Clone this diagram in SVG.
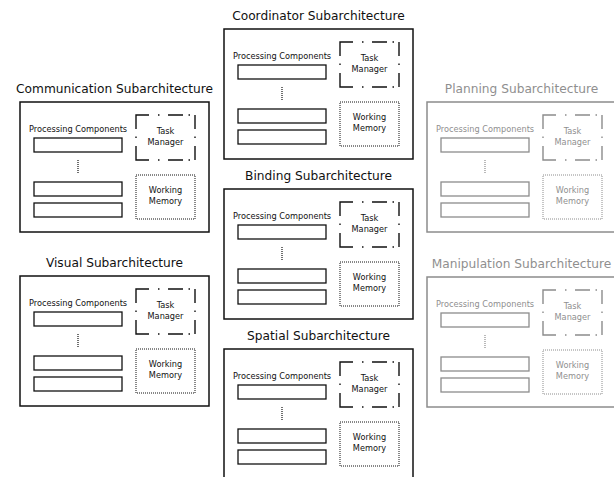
<svg xmlns="http://www.w3.org/2000/svg" xmlns:xlink="http://www.w3.org/1999/xlink" width="614" height="477" viewBox="0 0 614 477">
  <style>
    .node { stroke: #111; fill: none; }
    .node text { stroke: none; fill: #111; font-family: "DejaVu Sans", "Liberation Sans", sans-serif; }
    .muted { stroke: #8c8c8c; }
    .muted text { fill: #8f8f8f; }
    .title { font-size: 12.2px; text-anchor: middle; }
    .label { font-size: 8.2px; }
    .mid { text-anchor: middle; }
    .outer { stroke-width: 1.5; }
    .slot { stroke-width: 1.3; }
    .ellipsis { stroke-width: 1.2; stroke-dasharray: 1 1; }
    .tm { stroke-width: 1.4; }
    .wm { stroke-width: 1; stroke-dasharray: 1 1; }
  </style>
  <defs>
    <!-- dash-dot frame of the task manager, 59 x 45 -->
    <path id="tmFrame" class="tm" d="M0,14 V0 H13 M22,0 H23.5 M32,0 H47 M52.5,0 H54 M59,0 V14 M59,21.5 V23 M59,31 V45 M54,45 H52.5 M47,45 H32 M23.5,45 H22 M13,45 H0 V31 M0,23 V21.5"/>
    <!-- box body shared by every subarchitecture -->
    <g id="body">
      <rect class="outer" x="0" y="0" width="189" height="130"/>
      <rect class="slot" x="14" y="36" width="88" height="14"/>
      <line class="ellipsis" x1="58" y1="58" x2="58" y2="71"/>
      <rect class="slot" x="14" y="80" width="88" height="14"/>
      <rect class="slot" x="14" y="101" width="88" height="14"/>
      <use xlink:href="#tmFrame" x="116" y="13"/>
      <rect class="wm" x="116" y="73" width="59" height="44"/>
    </g>
  </defs>

  <g id="communication" class="node">
    <text class="title" x="114.5" y="93">Communication Subarchitecture</text>
    <g transform="translate(20,102)">
      <use xlink:href="#body"/>
      <text class="label" x="9" y="30">Processing Components</text>
      <text class="label mid" x="145.5" y="32">Task</text>
      <text class="label mid" x="145.5" y="43">Manager</text>
      <text class="label mid" x="145.5" y="91">Working</text>
      <text class="label mid" x="145.5" y="102">Memory</text>
    </g>
  </g>

  <g id="visual" class="node">
    <text class="title" x="114.5" y="267">Visual Subarchitecture</text>
    <g transform="translate(20,276)">
      <use xlink:href="#body"/>
      <text class="label" x="9" y="30">Processing Components</text>
      <text class="label mid" x="145.5" y="32">Task</text>
      <text class="label mid" x="145.5" y="43">Manager</text>
      <text class="label mid" x="145.5" y="91">Working</text>
      <text class="label mid" x="145.5" y="102">Memory</text>
    </g>
  </g>

  <g id="coordinator" class="node">
    <text class="title" x="318.5" y="20">Coordinator Subarchitecture</text>
    <g transform="translate(224,29)">
      <use xlink:href="#body"/>
      <text class="label" x="9" y="30">Processing Components</text>
      <text class="label mid" x="145.5" y="32">Task</text>
      <text class="label mid" x="145.5" y="43">Manager</text>
      <text class="label mid" x="145.5" y="91">Working</text>
      <text class="label mid" x="145.5" y="102">Memory</text>
    </g>
  </g>

  <g id="binding" class="node">
    <text class="title" x="318.5" y="180">Binding Subarchitecture</text>
    <g transform="translate(224,189)">
      <use xlink:href="#body"/>
      <text class="label" x="9" y="30">Processing Components</text>
      <text class="label mid" x="145.5" y="32">Task</text>
      <text class="label mid" x="145.5" y="43">Manager</text>
      <text class="label mid" x="145.5" y="91">Working</text>
      <text class="label mid" x="145.5" y="102">Memory</text>
    </g>
  </g>

  <g id="spatial" class="node">
    <text class="title" x="318.5" y="340">Spatial Subarchitecture</text>
    <g transform="translate(224,349)">
      <use xlink:href="#body"/>
      <text class="label" x="9" y="30">Processing Components</text>
      <text class="label mid" x="145.5" y="32">Task</text>
      <text class="label mid" x="145.5" y="43">Manager</text>
      <text class="label mid" x="145.5" y="91">Working</text>
      <text class="label mid" x="145.5" y="102">Memory</text>
    </g>
  </g>

  <g id="planning" class="node muted">
    <text class="title" x="521.5" y="93">Planning Subarchitecture</text>
    <g transform="translate(427,102)">
      <use xlink:href="#body"/>
      <text class="label" x="9" y="30">Processing Components</text>
      <text class="label mid" x="145.5" y="32">Task</text>
      <text class="label mid" x="145.5" y="43">Manager</text>
      <text class="label mid" x="145.5" y="91">Working</text>
      <text class="label mid" x="145.5" y="102">Memory</text>
    </g>
  </g>

  <g id="manipulation" class="node muted">
    <text class="title" x="521.5" y="268">Manipulation Subarchitecture</text>
    <g transform="translate(427,277)">
      <use xlink:href="#body"/>
      <text class="label" x="9" y="30">Processing Components</text>
      <text class="label mid" x="145.5" y="32">Task</text>
      <text class="label mid" x="145.5" y="43">Manager</text>
      <text class="label mid" x="145.5" y="91">Working</text>
      <text class="label mid" x="145.5" y="102">Memory</text>
    </g>
  </g>
</svg>
